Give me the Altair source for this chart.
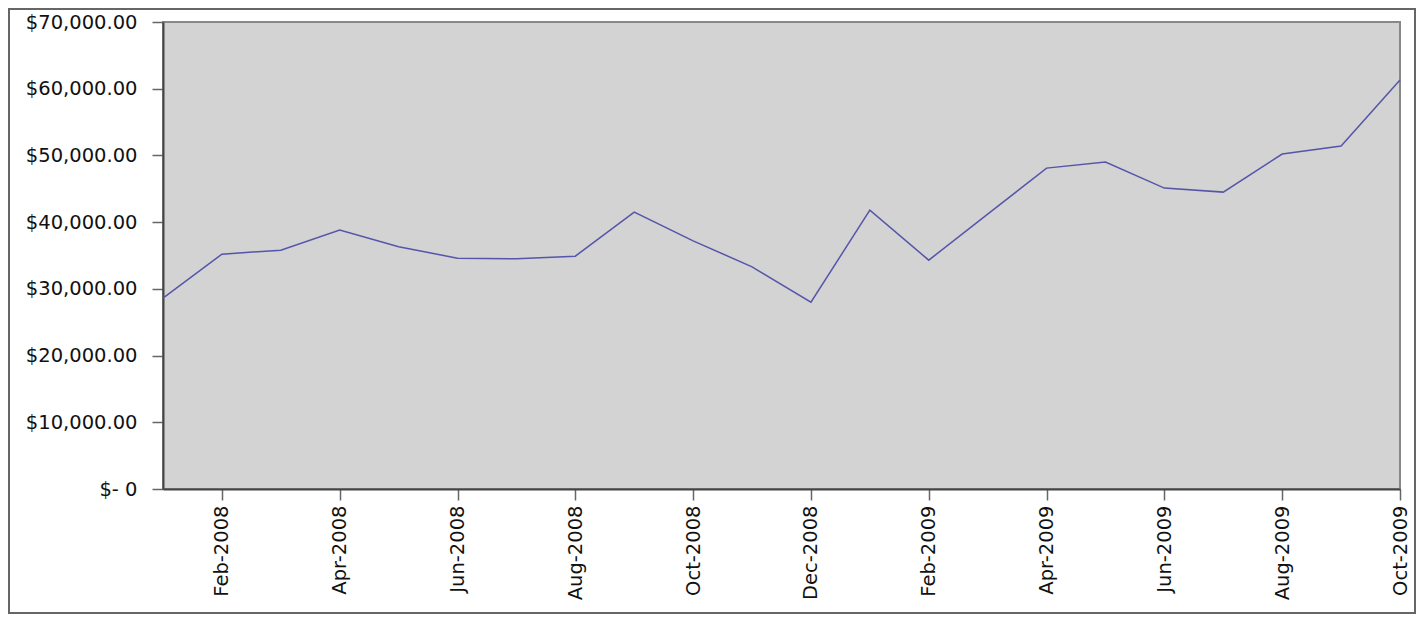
import altair as alt
import pandas as pd

months = ["Jan-2008", "Feb-2008", "Mar-2008", "Apr-2008", "May-2008", "Jun-2008",
          "Jul-2008", "Aug-2008", "Sep-2008", "Oct-2008", "Nov-2008", "Dec-2008",
          "Jan-2009", "Feb-2009", "Mar-2009", "Apr-2009", "May-2009", "Jun-2009",
          "Jul-2009", "Aug-2009", "Sep-2009", "Oct-2009"]
values = [28600, 35200, 35800, 38800, 36300, 34600,
          34500, 34900, 41500, 37200, 33300, 28000,
          41800, 34300, 41200, 48100, 49000, 45100,
          44500, 50200, 51400, 61300]
tick_months = ["Feb-2008", "Apr-2008", "Jun-2008", "Aug-2008", "Oct-2008", "Dec-2008",
               "Feb-2009", "Apr-2009", "Jun-2009", "Aug-2009", "Oct-2009"]
y_ticks = [0, 10000, 20000, 30000, 40000, 50000, 60000, 70000]

df = pd.DataFrame({"month": months, "value": values})

W, H = 1237, 467
PL, PT, PR, PB = 155, 14, 16, 125
FONT = "DejaVu Sans"
FS = 19.5

line = alt.Chart(df).mark_line(color="#5555aa", strokeWidth=1.5).encode(
    x=alt.X("month:O", sort=months,
            scale=alt.Scale(type="point", padding=0),
            axis=alt.Axis(values=tick_months, labelAngle=-90, title=None,
                          domainColor="#444444", domainWidth=2,
                          tickColor="#666666", tickSize=11, tickWidth=1.5,
                          labelPadding=5, labelFont=FONT, labelFontSize=FS,
                          labelColor="#111111")),
    y=alt.Y("value:Q", scale=alt.Scale(domain=[0, 70000], nice=False),
            axis=alt.Axis(values=y_ticks, title=None, grid=False,
                          labelExpr="datum.value == 0 ? '$- 0' : '$' + format(datum.value, ',.2f')",
                          domainColor="#444444", domainWidth=2,
                          tickColor="#666666", tickSize=11, tickWidth=1.5,
                          labelPadding=15, labelFont=FONT, labelFontSize=FS,
                          labelColor="#111111")),
)

frame = alt.Chart(df).mark_rect(fill=None, stroke="#666666", strokeWidth=2, clip=False).encode(
    x=alt.value(-PL + 1), x2=alt.value(W + PR - 1),
    y=alt.value(-PT + 1), y2=alt.value(H + PB - 1),
)

chart = alt.layer(frame, line).properties(
    width=W, height=H,
    autosize=alt.AutoSizeParams(type="none"),
    padding={"left": PL, "top": PT, "right": PR, "bottom": PB},
    background="white",
).configure_view(
    fill="#d3d3d3", stroke="#888888", strokeWidth=2
)

chart.save("out.html", embed_options={"renderer": "svg", "actions": False})
